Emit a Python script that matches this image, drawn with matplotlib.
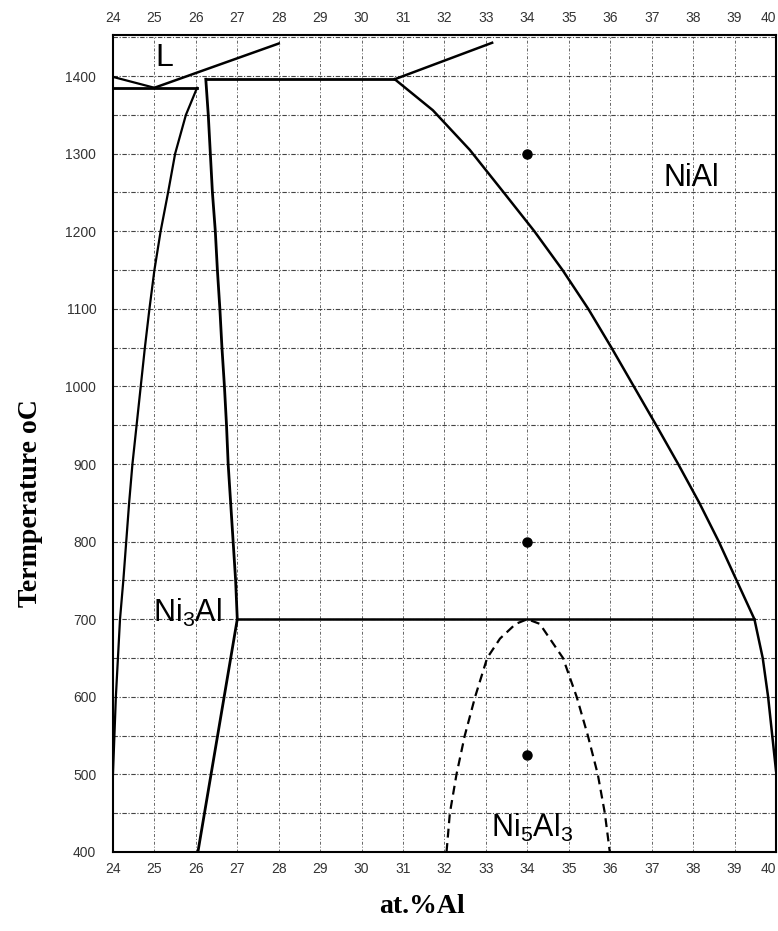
import numpy as np
import matplotlib.pyplot as plt

plt.rcParams["mathtext.default"] = "regular"

# liquidus / solidus lines near the top
liq_left_x = [24.0, 25.0]
liq_left_t = [1399, 1385]
liq_right_x = [25.0, 28.0]
liq_right_t = [1385, 1442]
eut_x = [24.0, 26.03]
eut_t = [1385, 1385]

# Ni3Al field boundaries
ni3al_left_x = [26.03, 25.76, 25.5, 25.33, 25.15, 25.0, 24.88, 24.77, 24.67, 24.57,
                24.47, 24.39, 24.32, 24.25, 24.17, 24.07, 24.0]
ni3al_left_t = [1385, 1350, 1300, 1250, 1200, 1150, 1100, 1050, 1000, 950,
                900, 850, 800, 750, 700, 600, 500]
ni3al_right_x = [26.24, 26.3, 26.35, 26.4, 26.47, 26.52, 26.58, 26.63, 26.69, 26.74,
                 26.78, 26.84, 26.9, 26.96, 27.0, 26.05]
ni3al_right_t = [1396, 1350, 1300, 1250, 1200, 1150, 1100, 1050, 1000, 950,
                 900, 850, 800, 750, 700, 400]

perit_x = [26.24, 30.8]
perit_t = [1396, 1396]
nial_liq_x = [30.8, 33.15]
nial_liq_t = [1396, 1443]

# NiAl solvus
nial_x = [30.8, 31.72, 32.61, 33.43, 34.17, 34.85, 35.47, 36.03, 36.57, 37.11,
          37.64, 38.15, 38.62, 39.05, 39.48, 39.68, 39.81, 40.0]
nial_t = [1396, 1356, 1305, 1250, 1200, 1150, 1100, 1050, 1000, 950,
          900, 850, 800, 750, 700, 650, 600, 505]

eutectoid_x = [27.0, 39.48]
eutectoid_t = [700, 700]

# Ni5Al3 dome (dashed)
dome_x = [32.05, 32.13, 32.29, 32.49, 32.74, 33.03, 33.34, 33.72, 34.0, 34.3,
          34.86, 35.19, 35.46, 35.7, 35.87, 35.99]
dome_t = [400, 450, 500, 550, 600, 650, 675, 694, 700, 694,
          650, 600, 550, 500, 450, 400]

pts_x = [34, 34, 34]
pts_t = [1300, 800, 525]

xticks = list(range(24, 41))
yticks = list(range(400, 1401, 100))

fig = plt.figure(figsize=(7.78, 9.31), dpi=100)
ax = fig.add_axes([0.1452, 0.0849, 0.8522, 0.8775])

sans = "Liberation Sans"
k = "black"
ax.plot(liq_left_x, liq_left_t, color=k, lw=1.6)
ax.plot(liq_right_x, liq_right_t, color=k, lw=1.8)
ax.plot(eut_x, eut_t, color=k, lw=2.0)
ax.plot(ni3al_left_x, ni3al_left_t, color=k, lw=1.6)
ax.plot(ni3al_right_x, ni3al_right_t, color=k, lw=2.0)
ax.plot(perit_x, perit_t, color=k, lw=2.0)
ax.plot(nial_liq_x, nial_liq_t, color=k, lw=1.8)
ax.plot(nial_x, nial_t, color=k, lw=1.8)
ax.plot(eutectoid_x, eutectoid_t, color=k, lw=1.8)
ax.plot(dome_x, dome_t, color=k, lw=1.6, dashes=(4, 2.5))
ax.plot(pts_x, pts_t, "o", color=k, ms=6.5, ls="none")

ax.text(25.25, 1413, "L", fontsize=23, family=sans, ha="center", va="baseline")
ax.text(37.96, 1259, "NiAl", fontsize=22, family=sans, ha="center", va="baseline")
ax.text(25.8, 696, "Ni$_3$Al", fontsize=22, family=sans, ha="center", va="baseline")
ax.text(34.12, 419, "Ni$_5$Al$_3$", fontsize=22, family=sans, ha="center", va="baseline")

ax.set_xlim(24, 40)
ax.set_ylim(400, 1453)
ax.set_xticks(xticks)
ax.set_yticks(yticks)
ax.set_yticks(list(range(450, 1451, 100)), minor=True)
ax.grid(True, which="both", axis="y", color="#444", lw=0.8, ls=(0, (4, 1.5, 1, 1.5)))
ax.grid(True, which="major", axis="x", color="#666", lw=0.7, ls=(0, (3, 2, 1, 2)))
ax.set_axisbelow(True)

ax.tick_params(axis="x", which="both", length=0, pad=7, labelsize=10,
               labelcolor="#333", top=True, labeltop=True)
ax.tick_params(axis="y", which="both", length=0, pad=12, labelsize=10, labelcolor="#333")
fig.canvas.draw()
for lab in ax.get_xticklabels() + ax.get_yticklabels():
    lab.set_family(sans)
for tk in ax.xaxis.get_major_ticks()[-1:]:
    tk.label1.set_horizontalalignment("right")
    tk.label2.set_horizontalalignment("right")

for s in ax.spines.values():
    s.set_linewidth(1.5)

fig.text(0.5425, 0.013, "at.%Al", fontsize=20, family="Liberation Serif",
         weight="bold", ha="center", va="bottom")
fig.text(0.039, 1 - 503 / 931, "Termperature oC", fontsize=20, family="Liberation Serif",
         weight="bold", rotation=90, ha="center", va="center")

fig.savefig("out.png", dpi=100)
